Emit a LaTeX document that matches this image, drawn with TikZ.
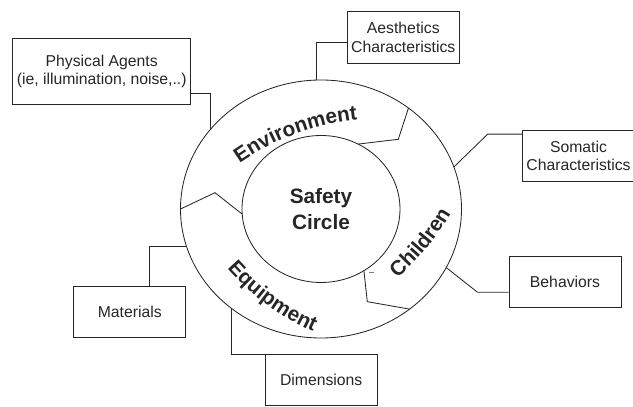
\documentclass[tikz,border=0pt]{standalone}
\usepackage{fontspec}
\setmainfont{Liberation Sans}
\usetikzlibrary{calc,decorations.text}
\tikzset{
  box/.style={draw,rectangle,align=center,inner sep=1pt,minimum width=2.8cm,minimum height=1.28cm,
    font=\fontsize{11.2}{13}\selectfont},
  ringtext/.style={decorate,decoration={text along path,text align=center,text color=black!85,
    text={|\fontsize{14.8}{18}\selectfont\bfseries|#1}}}
}
\begin{document}
\begin{tikzpicture}[x=0.025cm,y=0.025cm,line width=0.6pt,color=black!85]
\useasboundingbox (0,0) rectangle (633,407);
\coordinate (C) at (321,198);
\draw (C) ellipse [x radius=140.5,y radius=129];
\draw (C) ellipse [x radius=79,y radius=73.5];
\node[font=\fontsize{14.8}{18.5}\selectfont\bfseries,align=center] (sc) at (C) {Safety\\Circle};
\path[ringtext=Environment] (383.3,39) ++(135.5:250) arc[start angle=135.5,end angle=85.5,radius=250];
\path[ringtext=Children] (234.4,318.7) ++(-64.7:250) arc[start angle=-64.7,end angle=-14.7,radius=250];
\path[ringtext=Equipment] (414.4,303.8) ++(-151.2:250) arc[start angle=-151.2,end angle=-101.2,radius=250];
\draw ($(C)+(51.5:140.5 and 129)$) -- (398.3,267.7) -- ($(C)+(62:79 and 73.5)$);
\draw ($(C)+(180:140.5 and 129)$) -- (215,214.3) -- ($(C)+(184:79 and 73.5)$);
\draw ($(C)+(-57.1:79 and 73.5)$) -- (367.3,105.3) -- ($(C)+(-50.9:140.5 and 129)$);
\draw[black!50] (369,134.3) -- (374,134.3);
\node[box,minimum width=4.45cm,minimum height=1.65cm] (pa) at (101.7,335.7) {Physical Agents\\(ie, illumination, noise,..)};
\node[box] (ae) at (403.3,369.5) {Aesthetics\\Characteristics};
\node[box] (so) at (578.5,251.1) {Somatic\\Characteristics};
\node[box] (be) at (565,125) {Behaviors};
\node[box] (ma) at (129.7,94.8) {Materials};
\node[box] (di) at (321.2,27) {Dimensions};
\coordinate (pa-c) at ($(C)+(141.7:140.5 and 129)$);
\coordinate (ae-c) at ($(C)+(91.75:140.5 and 129)$);
\coordinate (so-c) at ($(C)+(19:140.5 and 129)$);
\coordinate (be-c) at ($(C)+(-27:140.5 and 129)$);
\coordinate (ma-c) at ($(C)+(196.7:140.5 and 129)$);
\coordinate (di-c) at ($(C)+(230.5:140.5 and 129)$);
\draw ($(pa.south east)+(0,11)$) -| (pa-c);
\draw ($(ae.west)+(0,-5)$) -| (ae-c);
\draw ($(so.north west)+(0,-4.3)$) -- ++(-34.4,0) -- (so-c);
\draw ($(be.west)+(0,-10.3)$) -- ++(-31,0) -- (be-c);
\draw ($(ma.north)+(19.6,0)$) |- (ma-c);
\draw (di-c) |- (di.north west);
\end{tikzpicture}
\end{document}
